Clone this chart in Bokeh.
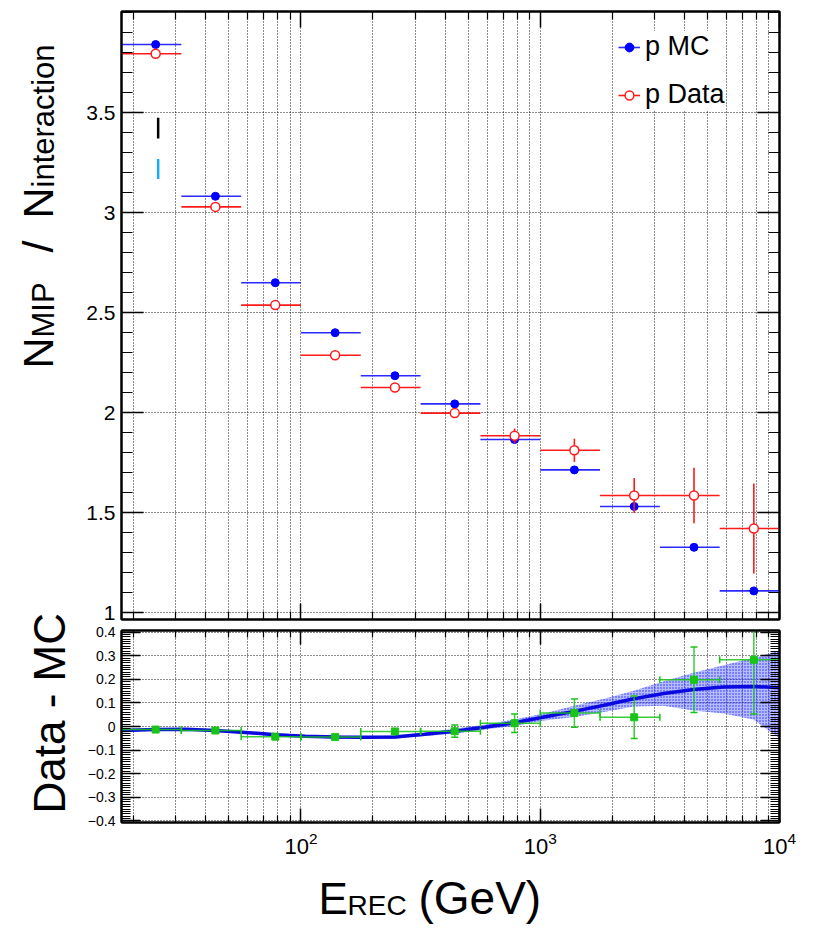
import math
from bokeh.plotting import figure
from bokeh.layouts import column, row
from bokeh.models import (Range1d, LogAxis, LinearAxis, FixedTicker, CustomJSTickFormatter,
                          Legend, LegendItem, Label, ColumnDataSource)
from bokeh.embed import file_html
from bokeh.resources import INLINE

# ---------------- data ----------------
bin_lo = [17.78, 31.62, 56.23, 100.0, 177.8, 316.2, 562.3, 1000.0, 1778.0, 3162.0, 5623.0]
bin_hi = [31.62, 56.23, 100.0, 177.8, 316.2, 562.3, 1000.0, 1778.0, 3162.0, 5623.0, 10000.0]
e_center = [24.7, 43.9, 78.1, 138.9, 247.0, 439.2, 781.2, 1389.0, 2470.0, 4392.0, 7812.0]

mc_ratio = [3.840, 3.081, 2.649, 2.399, 2.184, 2.043, 1.865, 1.713, 1.530, 1.326, 1.108]
mc_err = [0.002, 0.002, 0.003, 0.003, 0.004, 0.005, 0.006, 0.007, 0.009, 0.011, 0.013]
data_ratio = [3.794, 3.028, 2.537, 2.286, 2.125, 1.997, 1.884, 1.811, 1.585, 1.585, 1.420]
data_err = [0.004, 0.005, 0.006, 0.008, 0.010, 0.014, 0.036, 0.058, 0.088, 0.139, 0.225]

diff = [-0.013, -0.017, -0.043, -0.045, -0.021, -0.020, 0.014, 0.057, 0.039, 0.198, 0.283]
diff_err = [0.004, 0.006, 0.008, 0.008, 0.010, 0.026, 0.039, 0.060, 0.090, 0.139, 0.230]

fit_e = [17.9, 24.6, 32.9, 43.8, 58.4, 77.9, 104.0, 138.6, 184.8, 246.4, 328.6, 438.1,
         584.1, 778.8, 1038.0, 1385.0, 1847.0, 2462.0, 3283.0, 4377.0, 5836.0, 7781.0, 10000.0]
fit_val = [-0.017, -0.013, -0.012, -0.017, -0.025, -0.035, -0.041, -0.045, -0.046, -0.045,
           -0.033, -0.020, -0.003, 0.016, 0.040, 0.064, 0.090, 0.118, 0.140, 0.157, 0.167,
           0.170, 0.164]
fit_hi = [-0.011, -0.008, -0.007, -0.012, -0.020, -0.029, -0.035, -0.039, -0.040, -0.038,
          -0.026, -0.010, 0.007, 0.030, 0.055, 0.088, 0.118, 0.152, 0.192, 0.228, 0.260,
          0.290, 0.322]
fit_lo = [-0.023, -0.018, -0.017, -0.022, -0.030, -0.041, -0.047, -0.051, -0.052, -0.052,
          -0.040, -0.031, -0.013, 0.002, 0.025, 0.040, 0.062, 0.085, 0.088, 0.068, 0.055,
          0.030, -0.050]

mark_e = [25.3, 25.3]
mark_lo = [3.37, 3.167]
mark_hi = [3.474, 3.267]
mark_colors = ["black", "#1ea7ff"]

x_major = [100, 1000, 10000]
x_minor = [20, 30, 40, 50, 60, 70, 80, 90, 200, 300, 400, 500, 600, 700, 800, 900,
           2000, 3000, 4000, 5000, 6000, 7000, 8000, 9000]
top_y_major = [1.0, 1.5, 2.0, 2.5, 3.0, 3.5]
top_y_minor = [round(1.0 + 0.1 * i, 1) for i in range(31)]
low_y_major = [-0.4, -0.3, -0.2, -0.1, 0.0, 0.1, 0.2, 0.3, 0.4]
low_y_minor = [round(-0.4 + 0.01 * i, 2) for i in range(81)]

FONT = "Liberation Sans"
BLUE = "#0000ff"
RED = "#ff1a1a"
GREEN = "#19c419"
EMPTY = CustomJSTickFormatter(code="return ''")

TOTAL_H = 927
LEFT_W = 83
BOTTOM_H = 65
SHIFT = 0.4      # empirical baseline correction (fraction of font size)
X_CORR = 40      # empirical horizontal correction for the bottom title strip

src = ColumnDataSource(dict(
    lo=bin_lo, hi=bin_hi, e=e_center,
    mc=mc_ratio, mc_l=[v - s for v, s in zip(mc_ratio, mc_err)], mc_u=[v + s for v, s in zip(mc_ratio, mc_err)],
    da=data_ratio, da_l=[v - s for v, s in zip(data_ratio, data_err)], da_u=[v + s for v, s in zip(data_ratio, data_err)],
    df=diff, df_l=[v - s for v, s in zip(diff, diff_err)], df_u=[v + s for v, s in zip(diff, diff_err)],
))


def style_axis(ax, major_in, minor_in, label_size=None):
    ax.major_tick_in = major_in
    ax.major_tick_out = 0
    ax.minor_tick_in = minor_in
    ax.minor_tick_out = 0
    ax.axis_line_width = 2
    ax.axis_line_color = "black"
    ax.major_tick_line_width = 1.5
    ax.minor_tick_line_width = 1.2
    ax.major_tick_line_color = "black"
    ax.minor_tick_line_color = "black"
    if label_size is None:
        ax.formatter = EMPTY
        ax.major_label_standoff = 0
    else:
        ax.major_label_text_font_size = label_size
        ax.major_label_text_font = FONT
        ax.major_label_text_color = "black"


def style_grid(p, yticks):
    p.xgrid.ticker = FixedTicker(ticks=x_major, minor_ticks=x_minor)
    p.ygrid.ticker = FixedTicker(ticks=yticks)
    for g in (p.xgrid, p.ygrid):
        g.grid_line_color = "black"
        g.grid_line_dash = "1 2"
        g.grid_line_width = 1
        g.grid_line_alpha = 0.9
    p.xgrid.minor_grid_line_color = "black"
    p.xgrid.minor_grid_line_dash = "1 2"
    p.xgrid.minor_grid_line_alpha = 0.9


def blank_fig(w, h):
    f = figure(width=w, height=h, x_range=Range1d(0, w), y_range=Range1d(0, h),
               x_axis_location=None, y_axis_location=None, min_border=0,
               output_backend="svg", toolbar_location=None)
    f.grid.visible = False
    f.outline_line_color = None
    return f


def vtext(p, text, base_x, start_page_y, size):
    # rotated text reading upward; base_x = baseline (page px), start_page_y = text start
    p.add_layout(Label(x=base_x - SHIFT * size, y=TOTAL_H - start_page_y,
                       x_units="screen", y_units="screen", text=text, angle=math.pi / 2,
                       text_font=FONT, text_font_size=f"{size}px", text_color="black",
                       text_align="left", text_baseline="alphabetic"))


xr = Range1d(17.78, 10000)

# ---------------- top panel ----------------
p1 = figure(x_axis_type="log", x_range=xr, y_range=Range1d(0.965, 4.005),
            frame_width=658, frame_height=608, min_border_left=37, min_border_right=30,
            min_border_top=11, min_border_bottom=4, output_backend="svg", toolbar_location=None)
p1.outline_line_color = "black"
p1.outline_line_width = 2
style_grid(p1, top_y_major)

p1.xaxis.ticker = FixedTicker(ticks=x_major, minor_ticks=x_minor)
style_axis(p1.xaxis[0], 16, 8)
p1.yaxis.ticker = FixedTicker(ticks=top_y_major, minor_ticks=top_y_minor)
p1.yaxis.formatter = CustomJSTickFormatter(code="return String(Math.round(tick*10)/10)")
style_axis(p1.yaxis[0], 22, 11, "21px")
p1.yaxis.major_label_standoff = 6

ax = LogAxis(ticker=FixedTicker(ticks=x_major, minor_ticks=x_minor))
style_axis(ax, 16, 8)
p1.add_layout(ax, "above")
ax = LinearAxis(ticker=FixedTicker(ticks=top_y_major, minor_ticks=top_y_minor))
style_axis(ax, 22, 11)
p1.add_layout(ax, "right")

p1.segment(x0=mark_e, y0=mark_lo, x1=mark_e, y1=mark_hi, line_color=mark_colors, line_width=2.5)

mc_h = p1.segment(x0="lo", y0="mc", x1="hi", y1="mc", source=src, line_color="#2b2bff", line_width=1.6)
p1.segment(x0="e", y0="mc_l", x1="e", y1="mc_u", source=src, line_color="#2b2bff", line_width=1.6)
mc_pts = p1.scatter("e", "mc", source=src, marker="circle", size=8, fill_color=BLUE, line_color=BLUE)

da_h = p1.segment(x0="lo", y0="da", x1="hi", y1="da", source=src, line_color=RED, line_width=1.6)
p1.segment(x0="e", y0="da_l", x1="e", y1="da_u", source=src, line_color=RED, line_width=1.6)
da_pts = p1.scatter("e", "da", source=src, marker="circle", size=9, fill_color="white",
                    line_color=RED, line_width=1.5)

legend = Legend(items=[LegendItem(label="p MC", renderers=[mc_h, mc_pts]),
                       LegendItem(label="p Data", renderers=[da_h, da_pts])],
                location=(497, 509), label_text_font=FONT, label_text_font_size="27px",
                label_text_color="black",
                glyph_width=22, glyph_height=30, label_height=30, spacing=17, padding=10,
                label_standoff=5, margin=0, border_line_color=None,
                background_fill_color="white", background_fill_alpha=1.0)
p1.add_layout(legend)

# ---------------- bottom panel ----------------
p2 = figure(x_axis_type="log", x_range=xr, y_range=Range1d(-0.407, 0.407),
            frame_width=658, frame_height=192, min_border_left=37, min_border_right=30,
            min_border_top=7, min_border_bottom=40, output_backend="svg", toolbar_location=None)
p2.outline_line_color = "black"
p2.outline_line_width = 2
style_grid(p2, low_y_major)

p2.xaxis.ticker = FixedTicker(ticks=x_major, minor_ticks=x_minor)
style_axis(p2.xaxis[0], 14, 7, "22px")
p2.xaxis.major_label_standoff = 9
p2.yaxis.ticker = FixedTicker(ticks=low_y_major, minor_ticks=low_y_minor)
p2.yaxis.formatter = CustomJSTickFormatter(
    code="if (Math.abs(tick) < 1e-9) { return '0'; } return tick.toFixed(1).replace('-', '\\u2212');")
style_axis(p2.yaxis[0], 19, 9, "14px")
p2.yaxis.major_label_standoff = 6

ax = LogAxis(ticker=FixedTicker(ticks=x_major, minor_ticks=x_minor))
style_axis(ax, 14, 7)
p2.add_layout(ax, "above")
ax = LinearAxis(ticker=FixedTicker(ticks=low_y_major, minor_ticks=low_y_minor))
style_axis(ax, 19, 9)
p2.add_layout(ax, "right")

p2.varea(x=fit_e, y1=fit_lo, y2=fit_hi, fill_color="#3344ff", fill_alpha=0.36,
         hatch_pattern="dot", hatch_color="#0000ff", hatch_alpha=0.8, hatch_scale=3, hatch_weight=1)
p2.line(fit_e, fit_val, line_color="#0a0ae0", line_width=3.5)

p2.segment(x0="lo", y0="df", x1="hi", y1="df", source=src, line_color=GREEN, line_width=1.5, line_alpha=0.85)
p2.segment(x0="e", y0="df_l", x1="e", y1="df_u", source=src, line_color=GREEN, line_width=1.5, line_alpha=0.85)
p2.scatter("lo", "df", source=src, marker="dash", angle=math.pi / 2, size=7, line_color=GREEN, line_width=1.5)
p2.scatter("hi", "df", source=src, marker="dash", angle=math.pi / 2, size=7, line_color=GREEN, line_width=1.5)
p2.scatter("e", "df_l", source=src, marker="dash", size=7, line_color=GREEN, line_width=1.5)
p2.scatter("e", "df_u", source=src, marker="dash", size=7, line_color=GREEN, line_width=1.5)
p2.scatter("e", "df", source=src, marker="square", size=7, fill_color=GREEN, line_color=GREEN)

# ---------------- title strips ----------------
left = blank_fig(LEFT_W, TOTAL_H)
vtext(left, "N", 55, 368, 43)
vtext(left, "MIP", 55, 337, 31)
vtext(left, "/", 55, 252, 43)
vtext(left, "N", 55, 218, 43)
vtext(left, "interaction", 55, 187, 31)
vtext(left, "Data - MC", 67, 813, 44)

bottom = blank_fig(725, BOTTOM_H)


def htext_b(text, page_x, base_page_y, size):
    bottom.add_layout(Label(x=page_x - LEFT_W - X_CORR, y=TOTAL_H - base_page_y + SHIFT * size,
                            x_units="screen", y_units="screen", text=text,
                            text_font=FONT, text_font_size=f"{size}px", text_color="black",
                            text_align="left", text_baseline="alphabetic"))


htext_b("E", 320, 916, 44)
htext_b("REC", 349, 916, 28)
htext_b("(GeV)", 420, 916, 46)

layout = row(left, column(p1, p2, bottom, spacing=0), spacing=0)
open("out.html", "w").write(file_html(layout, INLINE))
